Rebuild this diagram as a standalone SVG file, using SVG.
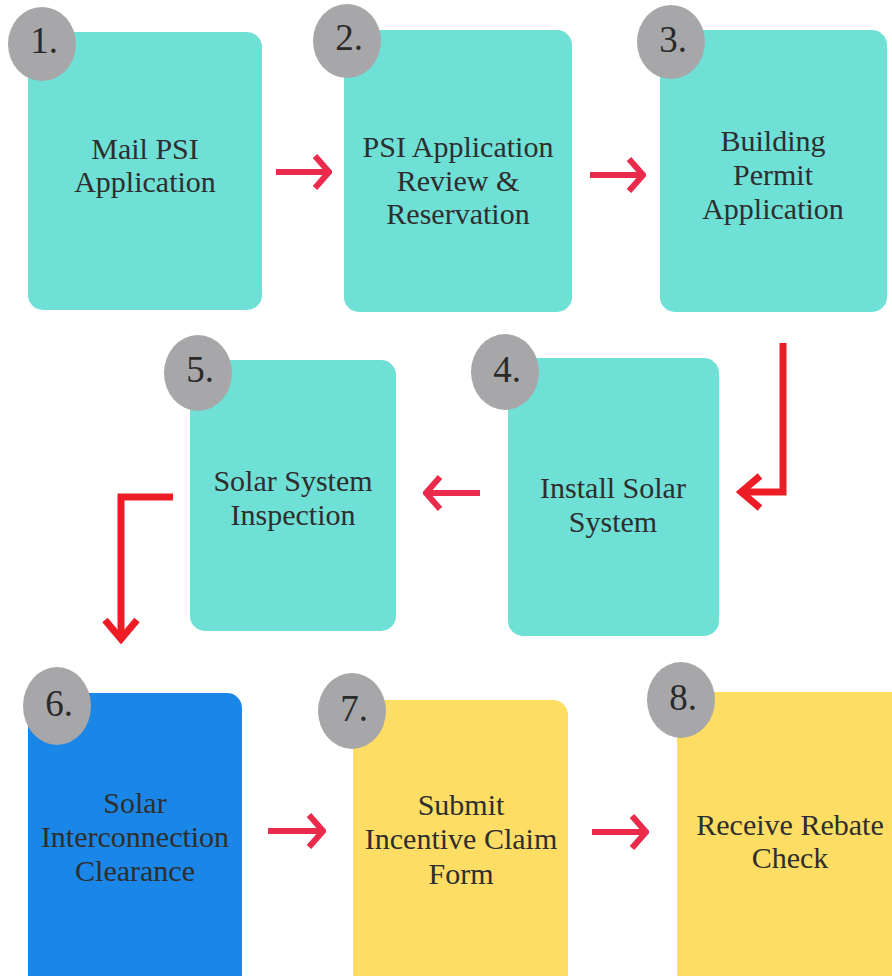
<svg xmlns="http://www.w3.org/2000/svg" width="892" height="976" viewBox="0 0 892 976">
<defs>
<style>
.teal{fill:#6EE0D6}
.blue{fill:#1A86E8}
.yellow{fill:#FDDD63}
.num{fill:#A7A7A9}
.lbl{font-size:30px;fill:#2E2E2E;text-anchor:middle}
.nt{font-size:37px;fill:#2A2A2A;text-anchor:middle}
.pk{fill:none;stroke:#EA2B4C;stroke-width:6}
.rd{fill:none;stroke:#EE1C25;stroke-width:7;stroke-linejoin:miter}
</style>
<marker id="hp" viewBox="0 0 20 40" refX="17" refY="20" markerWidth="20" markerHeight="40" markerUnits="userSpaceOnUse" orient="auto">
<path d="M3,4 L17,20 L3,36" fill="none" stroke="#EA2B4C" stroke-width="6"/>
</marker>
<marker id="hr" viewBox="0 0 28 40" refX="24" refY="20" markerWidth="28" markerHeight="40" markerUnits="userSpaceOnUse" orient="auto">
<path d="M4,4 L23,20 L4,36" fill="none" stroke="#EE1C25" stroke-width="7"/>
</marker>
</defs>
<rect width="892" height="976" fill="#FFFFFF"/>

<g id="connectors">
<path class="pk" d="M276,172 H329" marker-end="url(#hp)"/>
<path class="pk" d="M590,175 H643" marker-end="url(#hp)"/>
<path class="rd" d="M783,343 V492 H740" marker-end="url(#hr)"/>
<path class="pk" d="M480,493 H426" marker-end="url(#hp)"/>
<path class="rd" d="M173,497 H121 V640" marker-end="url(#hr)"/>
<path class="pk" d="M268,831 H323" marker-end="url(#hp)"/>
<path class="pk" d="M592,832 H646" marker-end="url(#hp)"/>
</g>

<g font-family="Liberation Serif, DejaVu Serif, serif">
<g id="node1">
<rect class="teal" x="28" y="32" width="234" height="278" rx="15"/>
<ellipse class="num" cx="42" cy="44" rx="34" ry="37"/>
<text class="nt" x="44" y="53">1.</text>
<text class="lbl" x="145" y="159">Mail PSI</text>
<text class="lbl" x="145" y="192">Application</text>
</g>

<g id="node2">
<rect class="teal" x="344" y="30" width="228" height="282" rx="15"/>
<ellipse class="num" cx="347" cy="41" rx="34" ry="37"/>
<text class="nt" x="349" y="50">2.</text>
<text class="lbl" x="458" y="157">PSI Application</text>
<text class="lbl" x="458" y="191">Review &amp;</text>
<text class="lbl" x="458" y="224">Reservation</text>
</g>

<g id="node3">
<rect class="teal" x="660" y="30" width="227" height="282" rx="15"/>
<ellipse class="num" cx="671" cy="42" rx="34" ry="37"/>
<text class="nt" x="673" y="52">3.</text>
<text class="lbl" x="773" y="151">Building</text>
<text class="lbl" x="773" y="185">Permit</text>
<text class="lbl" x="773" y="219">Application</text>
</g>

<g id="node4">
<rect class="teal" x="508" y="358" width="211" height="278" rx="15"/>
<ellipse class="num" cx="505" cy="372" rx="34" ry="38"/>
<text class="nt" x="507" y="382">4.</text>
<text class="lbl" x="613" y="498">Install Solar</text>
<text class="lbl" x="613" y="532">System</text>
</g>

<g id="node5">
<rect class="teal" x="190" y="360" width="206" height="271" rx="15"/>
<ellipse class="num" cx="198" cy="373" rx="34" ry="38"/>
<text class="nt" x="200" y="382">5.</text>
<text class="lbl" x="293" y="491">Solar System</text>
<text class="lbl" x="293" y="525">Inspection</text>
</g>

<g id="node6">
<rect class="blue" x="28" y="693" width="214" height="300" rx="15"/>
<ellipse class="num" cx="57" cy="706" rx="34" ry="39"/>
<text class="nt" x="59" y="716">6.</text>
<text class="lbl" x="135" y="813">Solar</text>
<text class="lbl" x="135" y="847">Interconnection</text>
<text class="lbl" x="135" y="881">Clearance</text>
</g>

<g id="node7">
<rect class="yellow" x="353" y="700" width="215" height="300" rx="15"/>
<ellipse class="num" cx="352" cy="711" rx="34" ry="38"/>
<text class="nt" x="354" y="721">7.</text>
<text class="lbl" x="461" y="815">Submit</text>
<text class="lbl" x="461" y="849">Incentive Claim</text>
<text class="lbl" x="461" y="884">Form</text>
</g>

<g id="node8">
<rect class="yellow" x="677" y="692" width="240" height="310" rx="15"/>
<ellipse class="num" cx="681" cy="700" rx="34" ry="38"/>
<text class="nt" x="683" y="710">8.</text>
<text class="lbl" x="790" y="835">Receive Rebate</text>
<text class="lbl" x="790" y="868">Check</text>
</g>
</g>
</svg>
